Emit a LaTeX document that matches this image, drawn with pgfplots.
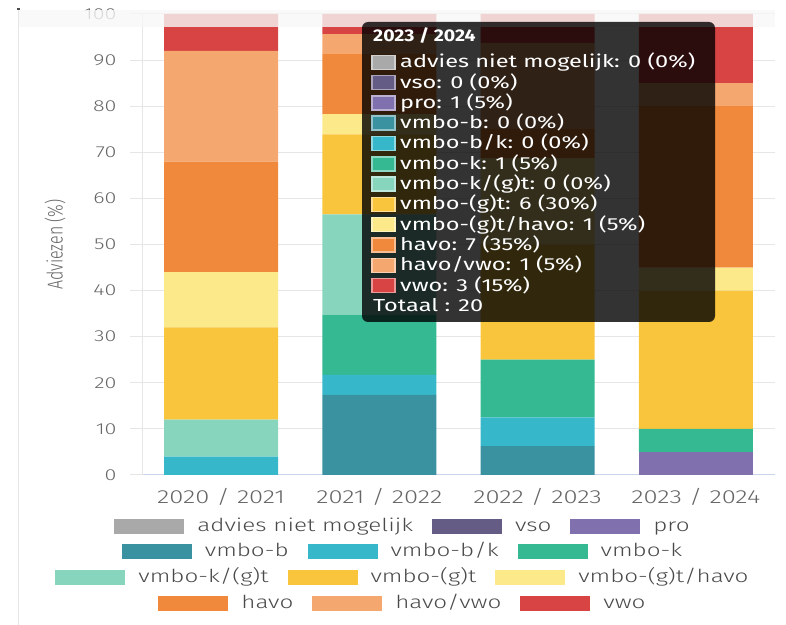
\documentclass[border=0pt]{standalone}
\usepackage{pgfplots}
\pgfplotsset{compat=1.18}
\usepackage{graphicx}
\usepackage{fontspec}
\IfFontExistsTF{Fira Sans Light}{%
  \setmainfont{Fira Sans Light}[BoldFont={Fira Sans}]}{%
  \setmainfont{Fira Sans}}
\newfontfamily\tipfont{Fira Sans}

\definecolor{cAdv}{HTML}{A9A9A9}
\definecolor{cVso}{HTML}{655C86}
\definecolor{cPro}{HTML}{8070AE}
\definecolor{cVb}{HTML}{3A919F}
\definecolor{cVbk}{HTML}{37B8CA}
\definecolor{cVk}{HTML}{34B993}
\definecolor{cVkgt}{HTML}{88D5BE}
\definecolor{cVgt}{HTML}{F9C53D}
\definecolor{cVgth}{HTML}{FCE98A}
\definecolor{cHavo}{HTML}{F0893B}
\definecolor{cHv}{HTML}{F4A76F}
\definecolor{cVwo}{HTML}{D84344}
\definecolor{tickc}{HTML}{666666}
\definecolor{legc}{HTML}{4A4A4A}
\definecolor{gridc}{HTML}{E6E6E6}
\definecolor{xlinec}{HTML}{CCD6EB}

\newcommand\wide[1]{\scalebox{1.35}[1]{#1}}
\newcommand\lsw[2]{\textcolor{#1}{\rule[-3bp]{70bp}{15bp}}\hspace{13bp}\wide{#2}}

\begin{document}
\begin{tikzpicture}
\begin{axis}[
  at={(142bp,150bp)}, anchor=south west,
  scale only axis, width=633bp, height=461bp,
  xmin=-0.5, xmax=3.5, ymin=0, ymax=100,
  ybar stacked, bar width=114bp,
  xtick={0,1,2,3},
  xticklabels={\wide{2020 / 2021},\wide{2021 / 2022},\wide{2022 / 2023},\wide{2023 / 2024}},
  ytick={0,10,...,100},
  yticklabels={\wide{0},\wide{10},\wide{20},\wide{30},\wide{40},\wide{50},\wide{60},\wide{70},\wide{80},\wide{90},\wide{100}},
  axis x line*=bottom, axis y line*=left,
  x axis line style={xlinec, line width=1bp},
  y axis line style={gridc, line width=1bp},
  ymajorgrids, grid style={gridc, line width=1bp},
  xtick style={draw=none},
  ytick style={gridc, line width=1bp},
  tick align=outside, major tick length=12bp,
  xticklabel style={font=\fontsize{19}{22}\selectfont, text=tickc, yshift=2bp},
  yticklabel style={font=\fontsize{16}{19}\selectfont, text=tickc, xshift=-10bp},
  ylabel={\scalebox{1}[1.35]{Adviezen (\%)}},
  every axis y label/.style={at={(axis description cs:0,0.5)}, xshift=-87bp,
    rotate=90, anchor=center, font=\fontsize{16}{19}\selectfont, text=tickc},
]
% advies niet mogelijk
\addplot[fill=cAdv, draw=none] coordinates {(0,0) (1,0) (2,0) (3,0)};
% vso
\addplot[fill=cVso, draw=none] coordinates {(0,0) (1,0) (2,0) (3,0)};
% pro
\addplot[fill=cPro, draw=none] coordinates {(0,0) (1,0) (2,0) (3,5)};
% vmbo-b
\addplot[fill=cVb, draw=none] coordinates {(0,0) (1,17.39) (2,6.25) (3,0)};
% vmbo-b/k
\addplot[fill=cVbk, draw=none] coordinates {(0,4) (1,4.35) (2,6.25) (3,0)};
% vmbo-k
\addplot[fill=cVk, draw=none] coordinates {(0,0) (1,13.04) (2,12.5) (3,5)};
% vmbo-k/(g)t
\addplot[fill=cVkgt, draw=none] coordinates {(0,8) (1,21.74) (2,0) (3,0)};
% vmbo-(g)t
\addplot[fill=cVgt, draw=none] coordinates {(0,20) (1,17.39) (2,25) (3,30)};
% vmbo-(g)t/havo
\addplot[fill=cVgth, draw=none] coordinates {(0,12) (1,4.35) (2,18.75) (3,5)};
% havo
\addplot[fill=cHavo, draw=none] coordinates {(0,24) (1,13.04) (2,6.25) (3,35)};
% havo/vwo
\addplot[fill=cHv, draw=none] coordinates {(0,24) (1,4.35) (2,18.75) (3,5)};
% vwo
\addplot[fill=cVwo, draw=none] coordinates {(0,8) (1,4.35) (2,6.25) (3,15)};
\end{axis}

\begin{scope}[x=1bp, y=1bp]
% faded band at the top
\fill[fill=white!97!black, opacity=0.8] (18,598) rectangle (775,615);
\draw[gridc, line width=1bp] (18,0) -- (18,615);
\fill[black!70] (17,615) rectangle (20,617);

% legend
\node[anchor=base, inner sep=0, text=legc, font=\fontsize{18}{21}\selectfont] at (402,94)
  {\lsw{cAdv}{advies niet mogelijk}\hspace{19bp}\lsw{cVso}{vso}\hspace{19bp}\lsw{cPro}{pro}};
\node[anchor=base, inner sep=0, text=legc, font=\fontsize{18}{21}\selectfont] at (402,69)
  {\lsw{cVb}{vmbo-b}\hspace{19bp}\lsw{cVbk}{vmbo-b/k}\hspace{19bp}\lsw{cVk}{vmbo-k}};
\node[anchor=base, inner sep=0, text=legc, font=\fontsize{18}{21}\selectfont] at (402,43)
  {\lsw{cVkgt}{vmbo-k/(g)t}\hspace{19bp}\lsw{cVgt}{vmbo-(g)t}\hspace{19bp}\lsw{cVgth}{vmbo-(g)t/havo}};
\node[anchor=base, inner sep=0, text=legc, font=\fontsize{18}{21}\selectfont] at (402,17)
  {\lsw{cHavo}{havo}\hspace{19bp}\lsw{cHv}{havo/vwo}\hspace{19bp}\lsw{cVwo}{vwo}};

% tooltip
\fill[black, opacity=0.8, rounded corners=6bp] (362,303) rectangle (715,603);
\node[anchor=base west, inner sep=0, text=white, font=\tipfont\fontsize{17}{20}\selectfont\bfseries]
  at (373,583) {\scalebox{1.15}[1]{2023 / 2024}};
\foreach \c/\t [count=\i] in {cAdv/{advies niet mogelijk: 0 (0\%)}, cVso/{vso: 0 (0\%)},
  cPro/{pro: 1 (5\%)}, cVb/{vmbo-b: 0 (0\%)}, cVbk/{vmbo-b/k: 0 (0\%)}, cVk/{vmbo-k: 1 (5\%)},
  cVkgt/{vmbo-k/(g)t: 0 (0\%)}, cVgt/{vmbo-(g)t: 6 (30\%)}, cVgth/{vmbo-(g)t/havo: 1 (5\%)},
  cHavo/{havo: 7 (35\%)}, cHv/{havo/vwo: 1 (5\%)}, cVwo/{vwo: 3 (15\%)}} {
  \pgfmathsetmacro\yc{625-62.3-20.3*(\i-1)}
  \draw[fill=\c, draw=\c!55!white, line width=1.5bp] (372,\yc-7) rectangle (395,\yc+7);
  \node[anchor=base west, inner sep=0, text=white, font=\tipfont\fontsize{17.5}{21}\selectfont]
    at (400,\yc-5.5) {\wide{\t}};
}
\node[anchor=base west, inner sep=0, text=white, font=\tipfont\fontsize{17.5}{21}\selectfont]
  at (373,313.8) {\wide{Totaal : 20}};
\end{scope}

\pgfresetboundingbox
\useasboundingbox (0,0) rectangle (786bp,625bp);
\end{tikzpicture}
\end{document}
